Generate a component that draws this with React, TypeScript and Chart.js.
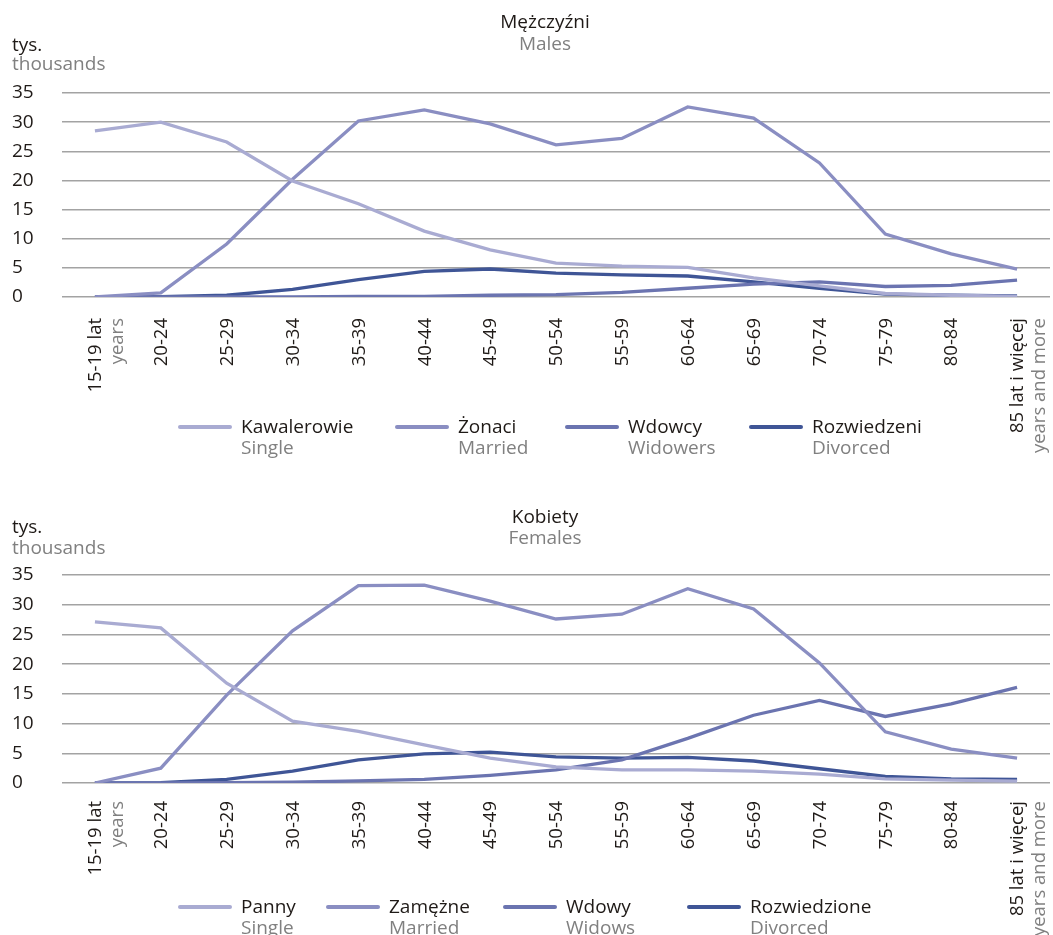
import React, { useEffect, useRef } from 'react';
import { Chart, registerables } from 'chart.js';

Chart.register(...registerables);

// ---------- DATA ----------
const ageLabels = ['15-19 lat', '20-24', '25-29', '30-34', '35-39', '40-44', '45-49', '50-54', '55-59', '60-64', '65-69', '70-74', '75-79', '80-84', '85 lat i więcej'];
const ageLabelsEn = ['years', '', '', '', '', '', '', '', '', '', '', '', '', '', 'years and more'];

const yTicks = [0, 5, 10, 15, 20, 25, 30, 35];

const maleSingle = [28.5, 30.0, 26.6, 19.9, 16.0, 11.3, 8.1, 5.8, 5.3, 5.1, 3.3, 1.9, 0.6, 0.3, 0.1];
const maleMarried = [0, 0.7, 9.1, 20.2, 30.2, 32.1, 29.7, 26.1, 27.2, 32.6, 30.7, 23.0, 10.8, 7.4, 4.8];
const maleWidowed = [0, 0, 0, 0, 0.1, 0.1, 0.3, 0.4, 0.8, 1.5, 2.2, 2.6, 1.8, 2.0, 2.9];
const maleDivorced = [0, 0.05, 0.3, 1.3, 3.0, 4.4, 4.8, 4.1, 3.8, 3.6, 2.6, 1.5, 0.5, 0.3, 0.2];

const femaleSingle = [27.1, 26.1, 16.8, 10.4, 8.7, 6.4, 4.2, 2.7, 2.2, 2.2, 2.0, 1.5, 0.7, 0.5, 0.3];
const femaleMarried = [0, 2.5, 14.8, 25.6, 33.2, 33.3, 30.6, 27.6, 28.4, 32.7, 29.3, 20.2, 8.6, 5.7, 4.2];
const femaleWidowed = [0, 0, 0.05, 0.15, 0.35, 0.6, 1.3, 2.2, 3.9, 7.5, 11.4, 13.9, 11.2, 13.3, 16.1];
const femaleDivorced = [0, 0.05, 0.6, 2.0, 3.9, 4.9, 5.2, 4.4, 4.2, 4.3, 3.7, 2.4, 1.1, 0.7, 0.6];

const maleNamesPl = ['Kawalerowie', 'Żonaci', 'Wdowcy', 'Rozwiedzeni'];
const maleNamesEn = ['Single', 'Married', 'Widowers', 'Divorced'];
const femaleNamesPl = ['Panny', 'Zamężne', 'Wdowy', 'Rozwiedzione'];
const femaleNamesEn = ['Single', 'Married', 'Widows', 'Divorced'];

const seriesColors = ['#a9abd2', '#8a8ec2', '#6b74b0', '#3f5596'];

// ---------- STYLE ----------
const FONT = '"Open Sans", "Noto Sans", sans-serif';
const FS = 19;
const FS_X = 18.5;
const BLACK = '#1f1a17';
const GRAY = '#808080';
const DY = 1;

type Layout = {
  canvasTop: number;
  canvasHeight: number;
  plotTop: number;
  plotBottom: number;
  titleY: number;
  subtitleY: number;
  unitY: number;
  unitEnY: number;
  labelTop: number;
  legendY: number;
  legendX: number[];
};

const layoutMale: Layout = {
  canvasTop: 0,
  canvasHeight: 480,
  plotTop: 93,
  plotBottom: 297,
  titleY: 22,
  subtitleY: 44,
  unitY: 45,
  unitEnY: 64,
  labelTop: 318,
  legendY: 427,
  legendX: [178, 395, 565, 749],
};

const layoutFemale: Layout = {
  canvasTop: 480,
  canvasHeight: 455,
  plotTop: 575,
  plotBottom: 783,
  titleY: 517,
  subtitleY: 538,
  unitY: 527,
  unitEnY: 548,
  labelTop: 801,
  legendY: 907,
  legendX: [178, 326, 503, 687],
};

type Props = {
  layout: Layout;
  title: string;
  subtitle: string;
  series: number[][];
  namesPl: string[];
  namesEn: string[];
};

function AgeChart({ layout, title, subtitle, series, namesPl, namesEn }: Props) {
  const ref = useRef<HTMLCanvasElement | null>(null);

  useEffect(() => {
    if (!ref.current) return;
    const off = layout.canvasTop;

    const decor = {
      id: 'decor',
      afterDraw(chart: any) {
        const ctx = chart.ctx as CanvasRenderingContext2D;
        ctx.save();
        ctx.font = `${FS}px ${FONT}`;
        ctx.textBaseline = 'middle';

        // title
        ctx.textAlign = 'center';
        ctx.fillStyle = BLACK;
        ctx.fillText(title, 545, layout.titleY - off + DY);
        ctx.fillStyle = GRAY;
        ctx.fillText(subtitle, 545, layout.subtitleY - off + DY);

        // unit
        ctx.textAlign = 'left';
        ctx.fillStyle = BLACK;
        ctx.fillText('tys.', 12, layout.unitY - off + DY);
        ctx.fillStyle = GRAY;
        ctx.fillText('thousands', 12, layout.unitEnY - off + DY);

        // x labels (rotated)
        const xs = chart.scales.x;
        ctx.font = `${FS_X}px ${FONT}`;
        ageLabels.forEach((lab, i) => {
          const x = xs.getPixelForValue(i);
          ctx.save();
          ctx.translate(x, layout.labelTop - off);
          ctx.rotate(-Math.PI / 2);
          ctx.textAlign = 'right';
          ctx.textBaseline = 'middle';
          ctx.fillStyle = BLACK;
          ctx.fillText(lab, 0, 1);
          if (ageLabelsEn[i]) {
            ctx.fillStyle = GRAY;
            ctx.fillText(ageLabelsEn[i], 0, 23);
          }
          ctx.restore();
        });

        // legend
        ctx.font = `${FS}px ${FONT}`;
        namesPl.forEach((name, i) => {
          const x0 = layout.legendX[i];
          const y = layout.legendY - off;
          ctx.strokeStyle = seriesColors[i];
          ctx.lineWidth = 4;
          ctx.lineCap = 'round';
          ctx.beginPath();
          ctx.moveTo(x0 + 2, y);
          ctx.lineTo(x0 + 52, y);
          ctx.stroke();
          ctx.textAlign = 'left';
          ctx.fillStyle = BLACK;
          ctx.fillText(name, x0 + 63, y + DY);
          ctx.fillStyle = GRAY;
          ctx.fillText(namesEn[i], x0 + 63, y + 21 + DY);
        });
        ctx.restore();
      },
    };

    const chart = new Chart(ref.current, {
      type: 'line',
      data: {
        labels: ageLabels,
        datasets: series.map((d, i) => ({
          label: namesPl[i],
          data: d,
          borderColor: seriesColors[i],
          backgroundColor: seriesColors[i],
          borderWidth: 3.3,
          pointRadius: 0,
          tension: 0,
          fill: false,
        })),
      },
      options: {
        animation: false,
        responsive: false,
        maintainAspectRatio: false,
        layout: {
          padding: {
            top: layout.plotTop - off,
            bottom: layout.canvasHeight - (layout.plotBottom - off),
            left: 12,
            right: 3,
          },
        },
        plugins: {
          legend: { display: false },
          title: { display: false },
          tooltip: { enabled: false },
        },
        scales: {
          x: {
            type: 'category',
            display: false,
            offset: true,
          },
          y: {
            min: 0,
            max: 35,
            afterFit(scale: any) {
              scale.width = 50;
            },
            afterBuildTicks(scale: any) {
              scale.ticks = yTicks.map((v) => ({ value: v }));
            },
            border: { display: false },
            grid: {
              color: '#a3a3a3',
              lineWidth: 1.5,
              drawTicks: false,
            },
            ticks: {
              crossAlign: 'far',
              color: BLACK,
              font: { family: FONT, size: FS },
              padding: 0,
            },
          },
        },
      },
      plugins: [decor],
    } as any);

    return () => chart.destroy();
  }, []);

  return (
    <canvas
      ref={ref}
      width={1053}
      height={layout.canvasHeight}
      style={{ position: 'absolute', left: 0, top: layout.canvasTop, width: 1053, height: layout.canvasHeight }}
    />
  );
}

export default function App() {
  return (
    <div style={{ position: 'absolute', left: 0, top: 0, width: 1053, height: 935, overflow: 'hidden', background: '#fff' }}>
      <AgeChart
        layout={layoutMale}
        title="Mężczyźni"
        subtitle="Males"
        series={[maleSingle, maleMarried, maleWidowed, maleDivorced]}
        namesPl={maleNamesPl}
        namesEn={maleNamesEn}
      />
      <AgeChart
        layout={layoutFemale}
        title="Kobiety"
        subtitle="Females"
        series={[femaleSingle, femaleMarried, femaleWidowed, femaleDivorced]}
        namesPl={femaleNamesPl}
        namesEn={femaleNamesEn}
      />
    </div>
  );
}
